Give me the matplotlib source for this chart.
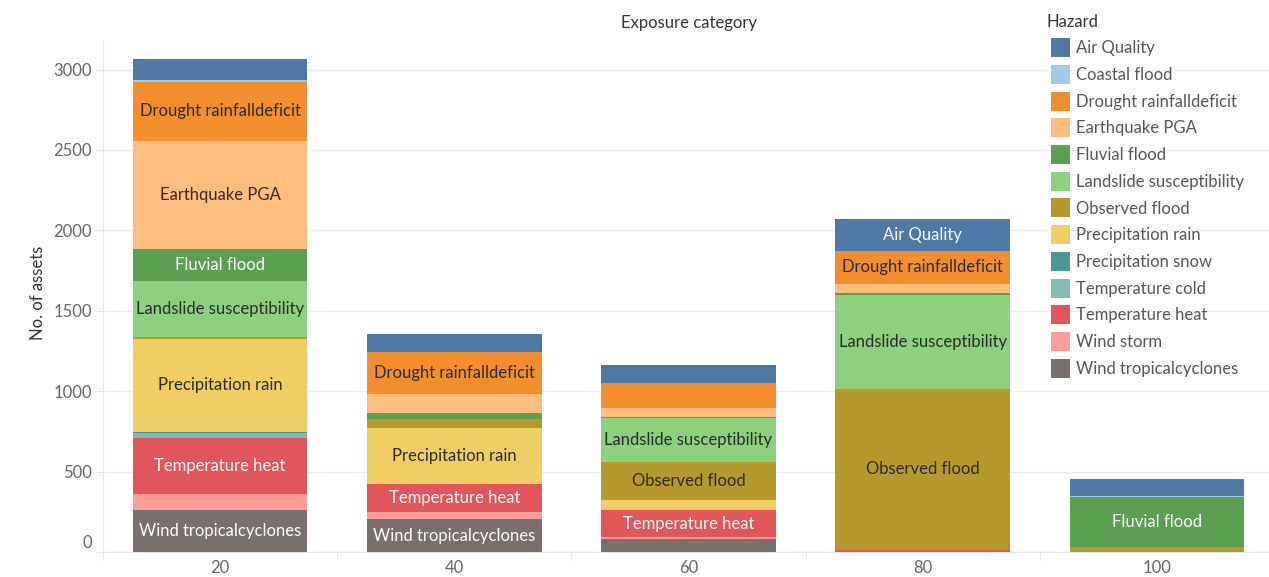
import matplotlib
matplotlib.use("Agg")
import matplotlib.pyplot as plt
from matplotlib.patches import Rectangle
from matplotlib.transforms import ScaledTranslation
import numpy as np

# ---------------- data ----------------
categories = ["20", "40", "60", "80", "100"]
hazards = ["Air Quality", "Coastal flood", "Drought rainfalldeficit", "Earthquake PGA",
           "Fluvial flood", "Landslide susceptibility", "Observed flood", "Precipitation rain",
           "Precipitation snow", "Temperature cold", "Temperature heat", "Wind storm",
           "Wind tropicalcyclones"]
air_quality = [129, 112, 114, 195, 110]
coastal_flood = [14, 0, 0, 0, 6]
drought_rainfalldeficit = [363, 259, 152, 205, 0]
earthquake_pga = [674, 120, 56, 58, 0]
fluvial_flood = [199, 34, 8, 15, 307]
landslide_susceptibility = [350, 0, 275, 582, 0]
observed_flood = [12, 56, 233, 1000, 33]
precipitation_rain = [575, 348, 64, 0, 0]
precipitation_snow = [10, 0, 0, 0, 0]
temperature_cold = [27, 0, 0, 0, 0]
temperature_heat = [352, 174, 170, 14, 0]
wind_storm = [100, 48, 8, 0, 0]
wind_tropicalcyclones = [259, 203, 83, 0, 0]
y_ticks = [0, 500, 1000, 1500, 2000, 2500, 3000]

series = [air_quality, coastal_flood, drought_rainfalldeficit, earthquake_pga, fluvial_flood,
          landslide_susceptibility, observed_flood, precipitation_rain, precipitation_snow,
          temperature_cold, temperature_heat, wind_storm, wind_tropicalcyclones]

# ---------------- style ----------------
colors = ["#4E79A7", "#A0CBE8", "#F28E2B", "#FFBE7D", "#59A14F", "#8CD17D", "#B6992D",
          "#F1CE63", "#499894", "#86BCB6", "#E15759", "#FF9D9A", "#79706E"]
light_text = {"Air Quality", "Fluvial flood", "Temperature heat", "Wind tropicalcyclones"}
label_min = 165
FS = 12

plt.rcParams["font.family"] = ["Lato", "DejaVu Sans"]

W, H = 1269, 577
fig = plt.figure(figsize=(W / 100, H / 100), dpi=100)

ax_left, ax_right, ax_top, ax_bot = 103, 1274, 40, 552
ax = fig.add_axes([ax_left / W, (H - ax_bot) / H, (ax_right - ax_left) / W, (ax_bot - ax_top) / H])

x = np.arange(len(categories))
bottom = np.zeros(len(categories))
# stack from the last hazard (bottom) to the first (top)
for name, vals, col in reversed(list(zip(hazards, series, colors))):
    vals = np.array(vals, dtype=float)
    ax.bar(x, vals, width=0.746, bottom=bottom, color=col, linewidth=0, zorder=3)
    for xi, v, b in zip(x, vals, bottom):
        if v >= label_min:
            ax.text(xi, b + v / 2, name, ha="center", va="center", fontsize=FS,
                    color="white" if name in light_text else "#2b2b2b", zorder=4)
    bottom += vals

ax.set_xlim(-0.5, len(categories) - 0.5)
ax.set_ylim(0, 3184)
ax.set_yticks(y_ticks)
ax.set_yticklabels([str(t) for t in y_ticks])
ax.set_xticks(x)
ax.set_xticklabels(categories)
ax.set_xticks(np.arange(-0.5, len(categories), 1.0), minor=True)

ax.grid(axis="y", color="#EDEDED", linewidth=1, zorder=0)
for s in ["top", "right"]:
    ax.spines[s].set_visible(False)
ax.spines["left"].set_color("#E6E6E6")
ax.spines["bottom"].set_color("#E6E6E6")

ax.tick_params(axis="y", length=5, color="#E6E6E6", labelcolor="#666666", labelsize=FS, pad=3)
ax.tick_params(axis="x", which="major", length=0, labelcolor="#666666", labelsize=FS, pad=6)
ax.tick_params(axis="x", which="minor", length=6, color="#E6E6E6")

# Tableau-style nudge of the zero label upward
for lbl in ax.get_yticklabels():
    if lbl.get_text() == "0":
        lbl.set_transform(lbl.get_transform() + ScaledTranslation(0, 11 / 100, fig.dpi_scale_trans))

fig.text(689 / W, 1 - 23 / H, "Exposure category", ha="center", va="center", fontsize=FS, color="#333333")
fig.text(38 / W, 1 - 293 / H, "No. of assets", ha="center", va="center", rotation=90,
         fontsize=FS, color="#333333")

# ---------------- legend ----------------
fig.text(1047 / W, 1 - 22 / H, "Hazard", ha="left", va="center", fontsize=FS, color="#333333")
sw = 19
for i, (name, col) in enumerate(zip(hazards, colors)):
    top = 38.3 + i * 26.7
    fig.patches.append(Rectangle((1050.5 / W, 1 - (top + sw) / H), sw / W, sw / H,
                                 transform=fig.transFigure, facecolor=col, edgecolor="none"))
    fig.text(1076 / W, 1 - (top + sw / 2 + 0.5) / H, name, ha="left", va="center", fontsize=FS,
             color="#555555")

fig.savefig("out.png", dpi=100)
